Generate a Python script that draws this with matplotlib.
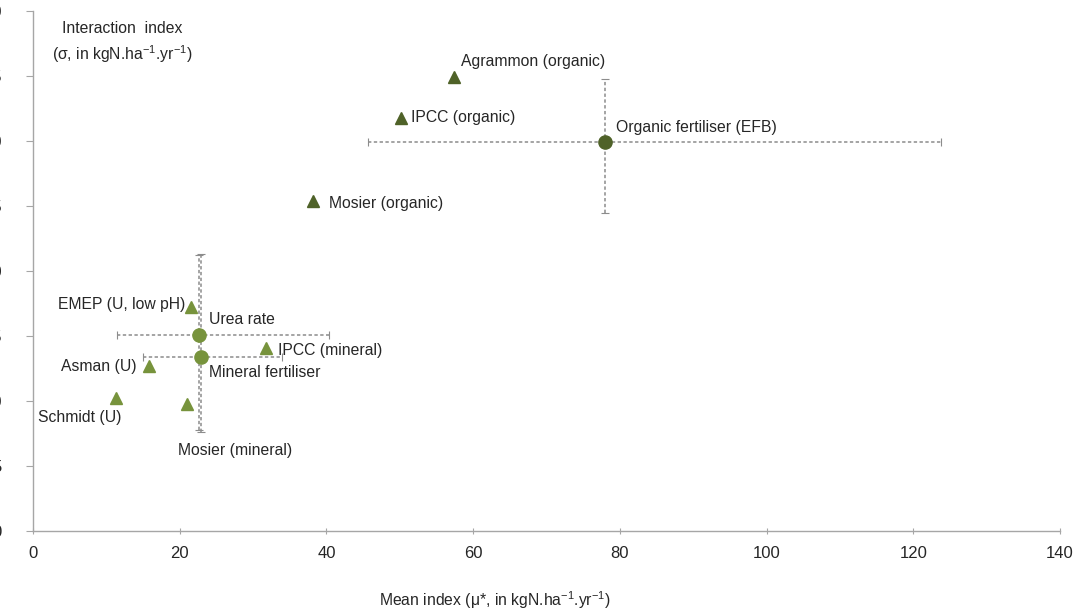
import matplotlib
matplotlib.use("Agg")
import matplotlib.pyplot as plt

plt.rcParams["font.family"] = ["Liberation Sans", "DejaVu Sans"]
plt.rcParams["mathtext.fontset"] = "custom"
plt.rcParams["mathtext.rm"] = "Liberation Sans"
plt.rcParams["mathtext.it"] = "Liberation Sans:italic"
plt.rcParams["mathtext.default"] = "regular"

# individual model estimates (mu*, sigma)
organic_names = ["Agrammon (organic)", "IPCC (organic)", "Mosier (organic)"]
organic_mu = [57.4, 50.1, 38.2]
organic_sigma = [34.9, 31.8, 25.4]

mineral_names = ["EMEP (U, low pH)", "IPCC (mineral)", "Asman (U)",
                 "Schmidt (U)", "Mosier (mineral)"]
mineral_mu = [21.6, 31.7, 15.8, 11.3, 21.0]
mineral_sigma = [17.2, 14.1, 12.7, 10.2, 9.8]

# aggregated factors with ranges (low, high)
factor_names = ["Organic fertiliser (EFB)", "Urea rate", "Mineral fertiliser"]
factor_mu = [78.0, 22.6, 22.9]
factor_sigma = [29.9, 15.1, 13.4]
factor_mu_range = [(45.7, 123.8), (11.4, 40.4), (15.0, 34.0)]
factor_sigma_range = [(24.5, 34.8), (7.8, 21.2), (7.6, 21.3)]

x_ticks = [0, 20, 40, 60, 80, 100, 120, 140]
y_ticks = [0, 5, 10, 15, 20, 25, 30, 35, 40]

dark_green = "#4f6228"
light_green = "#77933c"
text_col = "#262626"

# label offsets in pixels (dx, dy, ha)
label_pos = {
    "Agrammon (organic)": (7, 16, "left"),
    "IPCC (organic)": (10, 0, "left"),
    "Mosier (organic)": (16, -3, "left"),
    "EMEP (U, low pH)": (-6, 3, "right"),
    "IPCC (mineral)": (12, -3, "left"),
    "Asman (U)": (-12, -1, "right"),
    "Schmidt (U)": (-36, -19, "center"),
    "Mosier (mineral)": (-9, -47, "left"),
    "Organic fertiliser (EFB)": (11, 15, "left"),
    "Urea rate": (10, 15, "left"),
    "Mineral fertiliser": (8, -16, "left"),
}

fig = plt.figure(figsize=(10.79, 6.08), dpi=100)
ax = fig.add_axes([0.0306, 0.1266, 0.9518, 0.8553])

factor_cols = [dark_green, light_green, light_green]
for name, mu, sg, (xl, xh), (yl, yh), c in zip(factor_names, factor_mu, factor_sigma,
                                                factor_mu_range, factor_sigma_range,
                                                factor_cols):
    eb = ax.errorbar([mu], [sg], xerr=[[mu - xl], [xh - mu]], yerr=[[sg - yl], [yh - sg]],
                     fmt="none", ecolor="#8c8c8c", elinewidth=1.1, capsize=3,
                     capthick=0.8, zorder=2)
    for lc in eb[2]:
        lc.set_linestyle((0, (2.2, 1.6)))
    ax.plot([mu], [sg], "o", color=c, markersize=9.5, zorder=4)

ax.plot(organic_mu, organic_sigma, "^", color=dark_green, markersize=8, linestyle="none", zorder=4)
ax.plot(mineral_mu, mineral_sigma, "^", color=light_green, markersize=8, linestyle="none", zorder=4)

all_names = organic_names + mineral_names + factor_names
all_mu = organic_mu + mineral_mu + factor_mu
all_sigma = organic_sigma + mineral_sigma + factor_sigma
for name, mu, sg in zip(all_names, all_mu, all_sigma):
    dx, dy, ha = label_pos[name]
    ax.annotate(name, (mu, sg), xytext=(dx, dy), textcoords="offset pixels",
                ha=ha, va="center", fontsize=11.3, color=text_col, zorder=5)

ax.set_xlim(0, 140)
ax.set_ylim(0, 40)
ax.set_xticks(x_ticks)
ax.set_yticks(y_ticks)
ax.tick_params(axis="x", direction="inout", length=5, width=0.8, color="#a6a6a6",
               labelsize=12, labelcolor=text_col, pad=8)
ax.tick_params(axis="y", direction="out", length=5, width=0.8, color="#a6a6a6",
               labelsize=12, labelcolor=text_col, pad=17.5)
for side in ("top", "right"):
    ax.spines[side].set_visible(False)
for side in ("left", "bottom"):
    ax.spines[side].set_color("#a6a6a6")
    ax.spines[side].set_linewidth(1.0)

fig.text(122 / 1079, 1 - 43 / 608,
         "Interaction  index\n(σ, in kgN.ha$^{-1}$.yr$^{-1}$)",
         ha="center", va="center", multialignment="center", fontsize=11.3,
         color=text_col, linespacing=1.45)
fig.text(495 / 1079, 1 - 606 / 608, "Mean index (μ*, in kgN.ha$^{-1}$.yr$^{-1}$)",
         ha="center", va="baseline", fontsize=11.3, color=text_col)

fig.savefig("out.png", dpi=100)
